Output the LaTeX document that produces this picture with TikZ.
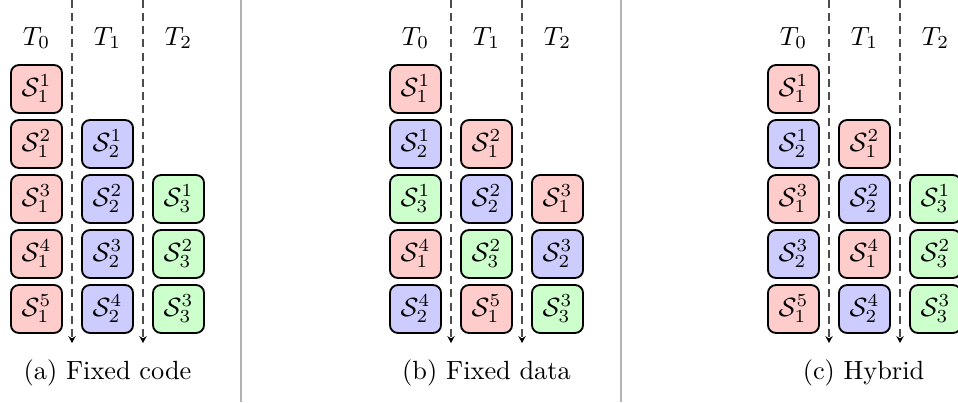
\documentclass[tikz,border=0pt]{standalone}
\usetikzlibrary{arrows.meta}
\tikzset{
  cellbox/.style={draw, rounded corners=3pt, line width=0.7pt, minimum width=19.4pt, minimum height=18.2pt, inner sep=0pt},
  rc/.style={cellbox, fill=red!20},
  bc/.style={cellbox, fill=blue!20},
  gc/.style={cellbox, fill=green!20},
  timeline/.style={densely dashed, draw=black!70, line width=0.4pt, -{Stealth[length=2.6pt,width=2.8pt,color=black]}},
  sepline/.style={gray!60, line width=0.4pt},
}
% \mycell{name}{x}{row}{style}{sub}{sup}
\newcommand\mycell[6]{\node[#4] (#1) at (#2,{89+55*(#3-1)}) {$\mathcal{S}_{#5}^{#6}$};}
\begin{document}
\begin{tikzpicture}[x=0.38pt,y=-0.38pt]
\useasboundingbox (0,0) rectangle (958,402);
% separators
\coordinate (s1t) at (241,0); \coordinate (s1b) at (241,402);
\coordinate (s2t) at (621,0); \coordinate (s2b) at (621,402);
\draw[sepline] (s1t) -- (s1b);
\draw[sepline] (s2t) -- (s2b);
\foreach \p/\ox in {a/0,b/379,c/757}{
  \node (\p T0) at (\ox+36.5,38) {$T_0$};
  \node (\p T1) at (\ox+107.5,38) {$T_1$};
  \node (\p T2) at (\ox+178.5,38) {$T_2$};
  \coordinate (\p d1t) at (\ox+72,0);
  \coordinate (\p d1b) at (\ox+72,343);
  \coordinate (\p d2t) at (\ox+143,0);
  \coordinate (\p d2b) at (\ox+143,343);
  \draw[timeline] (\p d1t) -- (\p d1b);
  \draw[timeline] (\p d2t) -- (\p d2b);
}
% panel (a)
\mycell{a01}{36.5}{1}{rc}{1}{1}
\mycell{a02}{36.5}{2}{rc}{1}{2}
\mycell{a03}{36.5}{3}{rc}{1}{3}
\mycell{a04}{36.5}{4}{rc}{1}{4}
\mycell{a05}{36.5}{5}{rc}{1}{5}
\mycell{a12}{107.5}{2}{bc}{2}{1}
\mycell{a13}{107.5}{3}{bc}{2}{2}
\mycell{a14}{107.5}{4}{bc}{2}{3}
\mycell{a15}{107.5}{5}{bc}{2}{4}
\mycell{a23}{178.5}{3}{gc}{3}{1}
\mycell{a24}{178.5}{4}{gc}{3}{2}
\mycell{a25}{178.5}{5}{gc}{3}{3}
\node (acap) at (107.5,373) {(a) Fixed code};
% panel (b)
\mycell{b01}{415.5}{1}{rc}{1}{1}
\mycell{b02}{415.5}{2}{bc}{2}{1}
\mycell{b03}{415.5}{3}{gc}{3}{1}
\mycell{b04}{415.5}{4}{rc}{1}{4}
\mycell{b05}{415.5}{5}{bc}{2}{4}
\mycell{b12}{486.5}{2}{rc}{1}{2}
\mycell{b13}{486.5}{3}{bc}{2}{2}
\mycell{b14}{486.5}{4}{gc}{3}{2}
\mycell{b15}{486.5}{5}{rc}{1}{5}
\mycell{b23}{557.5}{3}{rc}{1}{3}
\mycell{b24}{557.5}{4}{bc}{2}{3}
\mycell{b25}{557.5}{5}{gc}{3}{3}
\node (bcap) at (486.5,373) {(b) Fixed data};
% panel (c)
\mycell{c01}{793.5}{1}{rc}{1}{1}
\mycell{c02}{793.5}{2}{bc}{2}{1}
\mycell{c03}{793.5}{3}{rc}{1}{3}
\mycell{c04}{793.5}{4}{bc}{2}{3}
\mycell{c05}{793.5}{5}{rc}{1}{5}
\mycell{c12}{864.5}{2}{rc}{1}{2}
\mycell{c13}{864.5}{3}{bc}{2}{2}
\mycell{c14}{864.5}{4}{rc}{1}{4}
\mycell{c15}{864.5}{5}{bc}{2}{4}
\mycell{c23}{935.5}{3}{gc}{3}{1}
\mycell{c24}{935.5}{4}{gc}{3}{2}
\mycell{c25}{935.5}{5}{gc}{3}{3}
\node (ccap) at (863.5,373) {(c) Hybrid};
\end{tikzpicture}
\end{document}
